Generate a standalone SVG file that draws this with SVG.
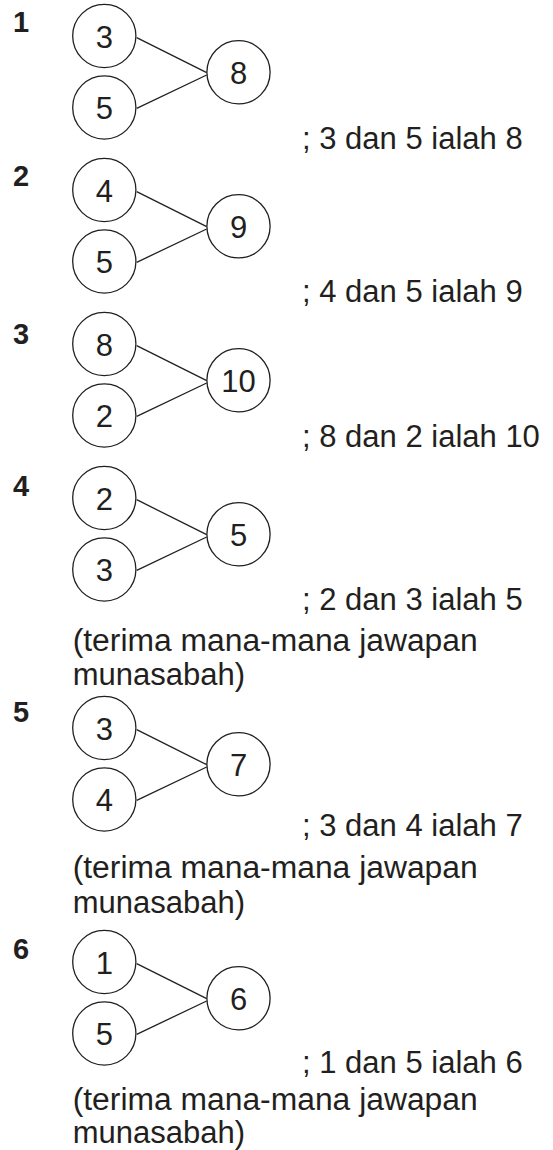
<svg xmlns="http://www.w3.org/2000/svg" width="553" height="1150" viewBox="0 0 553 1150">
<style>
.c{fill:#fff;stroke:#231f20;stroke-width:1.3}
.n{font-family:"Liberation Sans",Arial,sans-serif;font-size:31px;fill:#231f20;text-anchor:middle}
.q{font-family:"Liberation Sans",Arial,sans-serif;font-size:29px;font-weight:bold;fill:#231f20}
.t{font-family:"Liberation Sans",Arial,sans-serif;font-size:31px;fill:#231f20}
.l{stroke:#231f20;stroke-width:1.3;fill:none}
</style>
<rect width="553" height="1150" fill="#fff"/>
<g id="connectors">
<path class="l" d="M136.7 37.7L206.7 72.7M136.7 108.3L206.7 75"/>
<path class="l" d="M136.7 191.7L206.7 226.7M136.7 262.3L206.7 229"/>
<path class="l" d="M136.7 345.7L206.7 380.7M136.7 416.3L206.7 383"/>
<path class="l" d="M136.7 499.7L206.7 534.7M136.7 570.3L206.7 537"/>
<path class="l" d="M136.7 729.7L206.7 764.7M136.7 800.3L206.7 767"/>
<path class="l" d="M136.7 963.7L206.7 998.7M136.7 1034.3L206.7 1001"/>
</g>
<g id="q1"><text class="q" x="13" y="32">1</text></g>
<g id="q1a"><circle class="c" cx="104.3" cy="36" r="31.6"/><text class="n" x="104.3" y="47.5">3</text></g>
<g id="q1b"><circle class="c" cx="104.3" cy="107.5" r="31.6"/><text class="n" x="104.3" y="119">5</text></g>
<g id="q1c"><circle class="c" cx="238.5" cy="72.3" r="31.6"/><text class="n" x="238.5" y="83.8">8</text></g>
<g id="a1"><text class="t" x="302" y="149">; 3 dan 5 ialah 8</text></g>

<g id="q2"><text class="q" x="13" y="186">2</text></g>
<g id="q2a"><circle class="c" cx="104.3" cy="190" r="31.6"/><text class="n" x="104.3" y="201.5">4</text></g>
<g id="q2b"><circle class="c" cx="104.3" cy="261.5" r="31.6"/><text class="n" x="104.3" y="273">5</text></g>
<g id="q2c"><circle class="c" cx="238.5" cy="226.3" r="31.6"/><text class="n" x="238.5" y="237.8">9</text></g>
<g id="a2"><text class="t" x="302" y="302">; 4 dan 5 ialah 9</text></g>

<g id="q3"><text class="q" x="13" y="344">3</text></g>
<g id="q3a"><circle class="c" cx="104.3" cy="344" r="31.6"/><text class="n" x="104.3" y="355.5">8</text></g>
<g id="q3b"><circle class="c" cx="104.3" cy="415.5" r="31.6"/><text class="n" x="104.3" y="427">2</text></g>
<g id="q3c"><circle class="c" cx="238.5" cy="380.3" r="31.6"/><text class="n" x="238.5" y="391.8">10</text></g>
<g id="a3"><text class="t" x="302" y="447">; 8 dan 2 ialah 10</text></g>

<g id="q4"><text class="q" x="13" y="496">4</text></g>
<g id="q4a"><circle class="c" cx="104.3" cy="498" r="31.6"/><text class="n" x="104.3" y="509.5">2</text></g>
<g id="q4b"><circle class="c" cx="104.3" cy="569.5" r="31.6"/><text class="n" x="104.3" y="581">3</text></g>
<g id="q4c"><circle class="c" cx="238.5" cy="534.3" r="31.6"/><text class="n" x="238.5" y="545.8">5</text></g>
<g id="a4"><text class="t" x="302" y="610">; 2 dan 3 ialah 5</text>
<text class="t" x="72.7" y="651" textLength="405" lengthAdjust="spacingAndGlyphs">(terima mana-mana jawapan</text>
<text class="t" x="72.7" y="685">munasabah)</text></g>

<g id="q5"><text class="q" x="13" y="722">5</text></g>
<g id="q5a"><circle class="c" cx="104.3" cy="728" r="31.6"/><text class="n" x="104.3" y="739.5">3</text></g>
<g id="q5b"><circle class="c" cx="104.3" cy="799.5" r="31.6"/><text class="n" x="104.3" y="811">4</text></g>
<g id="q5c"><circle class="c" cx="238.5" cy="764.3" r="31.6"/><text class="n" x="238.5" y="775.8">7</text></g>
<g id="a5"><text class="t" x="302" y="836">; 3 dan 4 ialah 7</text>
<text class="t" x="72.7" y="878" textLength="405" lengthAdjust="spacingAndGlyphs">(terima mana-mana jawapan</text>
<text class="t" x="72.7" y="913">munasabah)</text></g>

<g id="q6"><text class="q" x="13" y="959">6</text></g>
<g id="q6a"><circle class="c" cx="104.3" cy="962" r="31.6"/><text class="n" x="104.3" y="973.5">1</text></g>
<g id="q6b"><circle class="c" cx="104.3" cy="1033.5" r="31.6"/><text class="n" x="104.3" y="1045">5</text></g>
<g id="q6c"><circle class="c" cx="238.5" cy="998.3" r="31.6"/><text class="n" x="238.5" y="1009.8">6</text></g>
<g id="a6"><text class="t" x="302" y="1073">; 1 dan 5 ialah 6</text>
<text class="t" x="72.7" y="1110" textLength="405" lengthAdjust="spacingAndGlyphs">(terima mana-mana jawapan</text>
<text class="t" x="72.7" y="1143">munasabah)</text></g>
</svg>
